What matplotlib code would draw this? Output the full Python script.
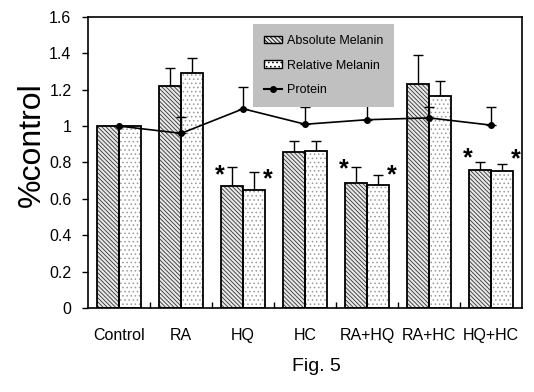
import matplotlib.pyplot as plt
import numpy as np
from matplotlib.patches import Patch
from matplotlib.lines import Line2D

plt.rcParams['font.family'] = ['Liberation Sans', 'DejaVu Sans']
plt.rcParams['hatch.linewidth'] = 0.6

# Datos
groups = ['Control', 'RA', 'HQ', 'HC', 'RA+HQ', 'RA+HC', 'HQ+HC']
absolute = [1.0, 1.22, 0.67, 0.86, 0.69, 1.23, 0.76]
absolute_err = [0.0, 0.10, 0.105, 0.06, 0.085, 0.16, 0.04]
relative = [1.0, 1.29, 0.65, 0.865, 0.675, 1.165, 0.753]
relative_err = [0.0, 0.085, 0.10, 0.055, 0.055, 0.085, 0.04]
protein = [1.0, 0.96, 1.095, 1.01, 1.035, 1.045, 1.005]
protein_err = [0.0, 0.09, 0.12, 0.095, 0.08, 0.06, 0.10]

# asteriscos: (grupo, lado, altura)
stars = [(2, -1, 0.73), (2, 1, 0.71), (4, -1, 0.76), (4, 1, 0.73), (6, -1, 0.825), (6, 1, 0.82)]

x = np.arange(len(groups))
w = 0.355
abs_hatch = '\\\\\\\\\\\\\\\\'
rel_hatch = '....'

fig = plt.figure(figsize=(5.34, 3.92), dpi=100)
ax = fig.add_axes([0.165, 0.214, 0.813, 0.743])

# barras: relleno con trama gris, borde negro
ax.bar(x - w / 2, absolute, w, color='#e8e8e8', edgecolor='#333333', hatch=abs_hatch, linewidth=0, zorder=2)
ax.bar(x - w / 2, absolute, w, fill=False, edgecolor='black', linewidth=1.3, zorder=3)
ax.bar(x + w / 2, relative, w, color='white', edgecolor='#999999', hatch=rel_hatch, linewidth=0, zorder=2)
ax.bar(x + w / 2, relative, w, fill=False, edgecolor='black', linewidth=1.3, zorder=3)

zeros = [0] * len(groups)
ax.errorbar(x - w / 2, absolute, yerr=[zeros, absolute_err], fmt='none', ecolor='black',
            elinewidth=1, capsize=3.5, capthick=1, zorder=1)
ax.errorbar(x + w / 2, relative, yerr=[zeros, relative_err], fmt='none', ecolor='black',
            elinewidth=1, capsize=3.5, capthick=1, zorder=1)

ax.errorbar(x, protein, yerr=[zeros, protein_err], fmt='-o', color='black', markersize=4,
            linewidth=1.2, elinewidth=1, capsize=3.5, capthick=1, zorder=4)

for g, side, h in stars:
    dx = -0.38 if side < 0 else 0.39
    ax.text(g + dx, h, '*', ha='center', va='center', fontsize=18, fontweight='bold')

ax.set_xlim(-0.5, len(groups) - 0.5)
ax.set_ylim(0, 1.6)
ax.set_yticks(np.arange(0, 1.61, 0.2))
ax.set_yticklabels(['0', '0.2', '0.4', '0.6', '0.8', '1', '1.2', '1.4', '1.6'])
ax.set_xticks(x)
ax.set_xticklabels(groups)
ax.set_xticks(np.arange(0.5, len(groups) - 1, 1), minor=True)
ax.tick_params(axis='x', which='major', length=0, pad=14, labelsize=11.5)
ax.tick_params(axis='x', which='minor', direction='in', length=4, width=1)
ax.tick_params(axis='y', direction='out', length=4, width=1, pad=8, labelsize=11.5)
for s in ax.spines.values():
    s.set_linewidth(1.2)

ax.set_ylabel('%control', fontsize=23)
ax.yaxis.set_label_coords(-0.095, 0.56)

handles = [Patch(facecolor='#e8e8e8', edgecolor='black', hatch=abs_hatch),
           Patch(facecolor='white', edgecolor='black', hatch=rel_hatch),
           Line2D([0], [0], color='black', marker='o', markersize=4)]
leg = ax.legend(handles, ['Absolute Melanin', 'Relative Melanin', 'Protein'],
                loc='upper left', bbox_to_anchor=(0.38, 0.976), borderaxespad=0,
                fontsize=9, frameon=True, fancybox=False, facecolor='#c0c0c0',
                edgecolor='none', framealpha=1, handlelength=1.4, handleheight=0.55,
                handletextpad=0.4, labelspacing=1.0, borderpad=0.9)
leg.set_zorder(5)

fig.text(0.592, 0.064, 'Fig. 5', ha='center', va='center', fontsize=14)

plt.savefig('out.png', dpi=100)
